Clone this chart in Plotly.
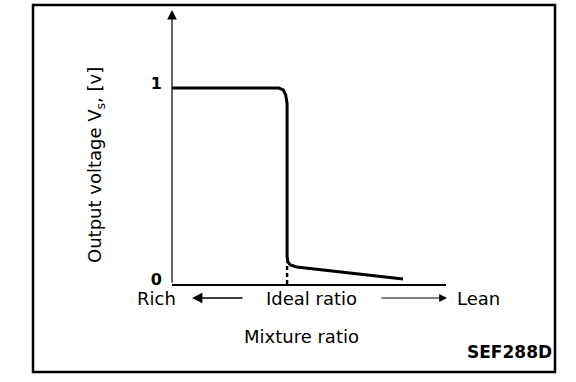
import plotly.graph_objects as go

# ---- data ----
curve_x = [0.0, 3.90, 4.06, 4.15, 4.20, 4.20, 4.23, 4.32, 4.55, 8.43]
curve_y = [1.0, 1.0, 0.99, 0.965, 0.92, 0.14, 0.112, 0.097, 0.087, 0.025]
ideal_x = [4.20, 4.20]
ideal_y = [0.0, 0.11]
ytick_vals = [0, 1]
ytick_text = ["0", "1"]
x_range = [0, 10]
y_range = [0, 1.398]

W, H = 576, 382
L, R, T, B = 172, 130, 10, 98
PW, PH = W - L - R, H - T - B

def px(x):
    return (x - L) / PW

def py(y):
    return (H - B - y) / PH

FONT = "DejaVu Sans"
TXT = dict(family=FONT, size=18, color="#000000")

def label(text, x, y, **kw):
    d = dict(x=px(x), y=py(y), xref="paper", yref="paper", text=text, showarrow=False,
             xanchor="center", yanchor="middle", font=TXT)
    d.update(kw)
    return d

fig = go.Figure()
fig.add_trace(go.Scatter(x=curve_x, y=curve_y, mode="lines",
                         line=dict(color="black", width=3), hoverinfo="skip"))
fig.add_trace(go.Scatter(x=ideal_x, y=ideal_y, mode="lines",
                         line=dict(color="black", width=2.5, dash="4px,3px"), hoverinfo="skip"))

annotations = [
    # y-axis with arrow
    dict(x=0, y=y_range[1], ax=0, ay=0, xref="x", yref="y", axref="x", ayref="y",
         showarrow=True, arrowhead=2, arrowsize=1.6, arrowwidth=1.2, arrowcolor="black", text=""),
    label("Output voltage V<sub>s</sub>, [v]", 96, 165, textangle=-90),
    label("Rich", 156, 298),
    dict(x=px(192), y=py(298), ax=52, ay=0, xref="paper", yref="paper",
         axref="pixel", ayref="pixel", showarrow=True, arrowhead=2, arrowsize=1.3,
         arrowwidth=1.6, arrowcolor="black", text=""),
    label("Ideal ratio", 311, 298),
    dict(x=px(447), y=py(298), ax=-67, ay=0, xref="paper", yref="paper",
         axref="pixel", ayref="pixel", showarrow=True, arrowhead=2, arrowsize=1.3,
         arrowwidth=1.2, arrowcolor="black", text=""),
    label("Lean", 478, 298),
    label("Mixture ratio", 301, 336),
    label("<b>SEF288D</b>", 554, 352, xanchor="right",
          font=dict(family=FONT, size=17, color="#000000")),
]

shapes = [
    dict(type="rect", xref="paper", yref="paper", x0=px(33), x1=px(555), y0=py(5), y1=py(372),
         line=dict(color="black", width=2.5), fillcolor="rgba(0,0,0,0)", layer="below"),
]

fig.update_layout(
    width=W, height=H,
    margin=dict(l=L, r=R, t=T, b=B, pad=0),
    paper_bgcolor="white", plot_bgcolor="white",
    showlegend=False,
    annotations=annotations,
    shapes=shapes,
    xaxis=dict(range=x_range, showgrid=False, zeroline=False, showticklabels=False,
               ticks="", showline=True, linecolor="black", linewidth=1.6, fixedrange=True),
    yaxis=dict(range=y_range, showgrid=False, zeroline=False, showline=False,
               tickvals=ytick_vals, ticktext=ytick_text, ticks="",
               ticklabelstandoff=9, ticklabelshift=-5,
               tickfont=dict(family=FONT, size=16, color="black", weight="bold"),
               fixedrange=True),
)

fig.write_html("out.html", config={"displayModeBar": False},
               post_script="document.body.style.margin='0px';")
